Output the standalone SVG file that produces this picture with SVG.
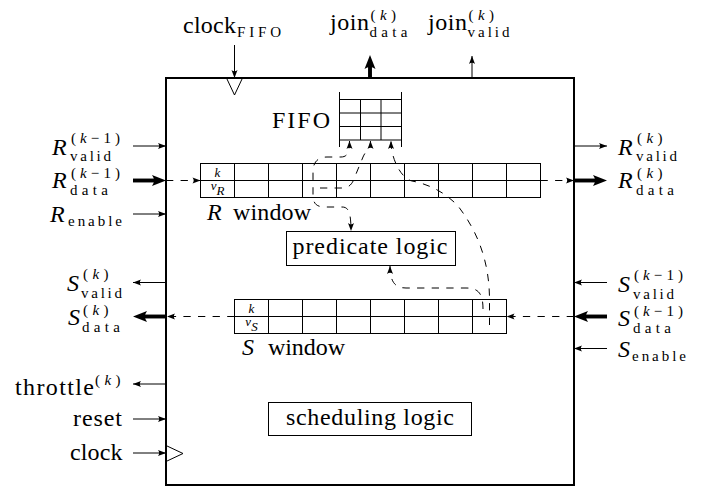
<svg xmlns="http://www.w3.org/2000/svg" width="715" height="489" viewBox="0 0 715 489" font-family="Liberation Serif">
<defs>
<style>
.m { font-size: 24px; }
.s { font-size: 15px; }
.c { font-size: 13px; }
.i { font-style: italic; }
.box { fill: none; stroke: #000; stroke-width: 2; }
.thin { fill: none; stroke: #000; stroke-width: 1; }
.wire { fill: none; stroke: #000; stroke-width: 1; marker-end: url(#ah); }
.bus { fill: none; stroke: #000; stroke-width: 3.9; marker-end: url(#bh); }
.dash { fill: none; stroke: #000; stroke-width: 1; stroke-dasharray: 7.3 7.3; marker-end: url(#ah); }
.both { marker-start: url(#ah); }
</style>
<marker id="ah" markerUnits="userSpaceOnUse" markerWidth="9" markerHeight="7" refX="8" refY="3" orient="auto-start-reverse" viewBox="0 0 9 7" overflow="visible">
<path d="M8,3 L0,0 Q2.4,3 0,6 Z" fill="#000"/>
</marker>
<marker id="bh" markerUnits="userSpaceOnUse" markerWidth="15" markerHeight="12" refX="4" refY="5.5" orient="auto" viewBox="0 0 15 12" overflow="visible">
<path d="M14,5.5 L0,0 Q4,5.5 0,11 Z" fill="#000"/>
</marker>
</defs>
<rect x="0" y="0" width="715" height="489" fill="#fff"/>

<g id="join-unit">
<rect class="box" x="166" y="78" width="408" height="407"/>
</g>

<g id="clock-fifo-port">
<polygon class="thin" points="226.5,78 242.5,78 234.5,95"/>
</g>
<g id="clock-port">
<polygon class="thin" points="166,445.5 183,453.5 166,461.5"/>
</g>

<g id="fifo" font-family="Liberation Serif">
<path class="thin" d="M339.5,92 V147 M401.5,92 V147 M360.5,99.5 V140 M381,99.5 V140 M339.5,99.5 H401.5 M339.5,113 H401.5 M339.5,126.5 H401.5 M339.5,140 H401.5"/>
<text class="m" x="272" y="128" textLength="58" lengthAdjust="spacing">FIFO</text>
</g>

<g id="r-window" font-family="Liberation Serif">
<rect class="thin" x="200.5" y="163.5" width="340" height="34"/>
<path class="thin" d="M200.5,180.5 H540.5 M234.5,163.5 V197.5 M268.5,163.5 V197.5 M302.5,163.5 V197.5 M336.5,163.5 V197.5 M370.5,163.5 V197.5 M404.5,163.5 V197.5 M438.5,163.5 V197.5 M472.5,163.5 V197.5 M506.5,163.5 V197.5"/>
<text class="c i" x="217.5" y="177" text-anchor="middle">k</text>
<text class="c i" x="217.5" y="189.5" text-anchor="middle">v<tspan dy="5">R</tspan></text>
<text class="m" x="207" y="220"><tspan class="i">R</tspan><tspan x="233" textLength="78" lengthAdjust="spacing">window</tspan></text>
</g>

<g id="s-window" font-family="Liberation Serif">
<rect class="thin" x="234.5" y="299.5" width="272" height="34"/>
<path class="thin" d="M234.5,316.5 H506.5 M268.5,299.5 V333.5 M302.5,299.5 V333.5 M336.5,299.5 V333.5 M370.5,299.5 V333.5 M404.5,299.5 V333.5 M438.5,299.5 V333.5 M472.5,299.5 V333.5"/>
<text class="c i" x="251.5" y="313" text-anchor="middle">k</text>
<text class="c i" x="251.5" y="325.5" text-anchor="middle">v<tspan dy="5">S</tspan></text>
<text class="m" x="242" y="355"><tspan class="i">S</tspan><tspan x="268" textLength="77" lengthAdjust="spacing">window</tspan></text>
</g>

<g id="predicate-logic" font-family="Liberation Serif">
<rect class="thin" x="286.5" y="231.5" width="169" height="34"/>
<text class="m" x="292.5" y="254" textLength="155" lengthAdjust="spacing">predicate logic</text>
</g>

<g id="scheduling-logic" font-family="Liberation Serif">
<rect class="thin" x="268.5" y="402.5" width="203" height="33"/>
<text class="m" x="286" y="425" textLength="168" lengthAdjust="spacing">scheduling logic</text>
</g>

<g id="labels" font-family="Liberation Serif">
<g id="label-clock-fifo">
<text class="m" x="183" y="33"><tspan textLength="53" lengthAdjust="spacing">clock</tspan><tspan class="s" x="237" y="36.5" textLength="44" lengthAdjust="spacing">FIFO</tspan></text>
</g>
<g id="label-join-data">
<text class="m" x="330" y="30"><tspan textLength="39" lengthAdjust="spacing">join</tspan><tspan class="s" x="370.5" y="19.5" textLength="25.5" lengthAdjust="spacing">(<tspan class="i">k</tspan>)</tspan><tspan class="s" x="369.5" y="37" textLength="38" lengthAdjust="spacing">data</tspan></text>
</g>
<g id="label-join-valid">
<text class="m" x="428" y="30"><tspan textLength="39" lengthAdjust="spacing">join</tspan><tspan class="s" x="468.5" y="19.5" textLength="25.5" lengthAdjust="spacing">(<tspan class="i">k</tspan>)</tspan><tspan class="s" x="467.5" y="37" textLength="42" lengthAdjust="spacing">valid</tspan></text>
</g>

<g id="label-r-valid-in">
<text class="m" x="52" y="155"><tspan class="i">R</tspan><tspan class="s" x="71" y="143" textLength="49" lengthAdjust="spacing">(<tspan class="i">k</tspan>−1)</tspan><tspan class="s" x="70" y="161" textLength="41" lengthAdjust="spacing">valid</tspan></text>
</g>
<g id="label-r-data-in">
<text class="m" x="52" y="188"><tspan class="i">R</tspan><tspan class="s" x="71" y="177.5" textLength="49" lengthAdjust="spacing">(<tspan class="i">k</tspan>−1)</tspan><tspan class="s" x="70" y="195" textLength="38" lengthAdjust="spacing">data</tspan></text>
</g>
<g id="label-r-enable">
<text class="m" x="50" y="222"><tspan class="i">R</tspan><tspan class="s" x="68" y="226" textLength="54" lengthAdjust="spacing">enable</tspan></text>
</g>
<g id="label-r-valid-out">
<text class="m" x="618" y="155"><tspan class="i">R</tspan><tspan class="s" x="637" y="143" textLength="25.5" lengthAdjust="spacing">(<tspan class="i">k</tspan>)</tspan><tspan class="s" x="636" y="161" textLength="41" lengthAdjust="spacing">valid</tspan></text>
</g>
<g id="label-r-data-out">
<text class="m" x="618" y="188"><tspan class="i">R</tspan><tspan class="s" x="637" y="177.5" textLength="25.5" lengthAdjust="spacing">(<tspan class="i">k</tspan>)</tspan><tspan class="s" x="636" y="195" textLength="38" lengthAdjust="spacing">data</tspan></text>
</g>
<g id="label-s-valid-out">
<text class="m" x="67" y="291"><tspan class="i">S</tspan><tspan class="s" x="83" y="279" textLength="25.5" lengthAdjust="spacing">(<tspan class="i">k</tspan>)</tspan><tspan class="s" x="81" y="297.5" textLength="41" lengthAdjust="spacing">valid</tspan></text>
</g>
<g id="label-s-data-out">
<text class="m" x="68" y="325"><tspan class="i">S</tspan><tspan class="s" x="83" y="314.5" textLength="25.5" lengthAdjust="spacing">(<tspan class="i">k</tspan>)</tspan><tspan class="s" x="82" y="332" textLength="38" lengthAdjust="spacing">data</tspan></text>
</g>
<g id="label-s-valid-in">
<text class="m" x="618" y="292"><tspan class="i">S</tspan><tspan class="s" x="634" y="280" textLength="49" lengthAdjust="spacing">(<tspan class="i">k</tspan>−1)</tspan><tspan class="s" x="633" y="298.5" textLength="41" lengthAdjust="spacing">valid</tspan></text>
</g>
<g id="label-s-data-in">
<text class="m" x="618" y="326"><tspan class="i">S</tspan><tspan class="s" x="634" y="315.5" textLength="49" lengthAdjust="spacing">(<tspan class="i">k</tspan>−1)</tspan><tspan class="s" x="633" y="333" textLength="38" lengthAdjust="spacing">data</tspan></text>
</g>
<g id="label-s-enable">
<text class="m" x="618" y="357"><tspan class="i">S</tspan><tspan class="s" x="632" y="361" textLength="54" lengthAdjust="spacing">enable</tspan></text>
</g>
<g id="label-throttle">
<text class="m" x="15" y="395"><tspan textLength="79" lengthAdjust="spacing">throttle</tspan><tspan class="s" x="95" y="385" textLength="25.5" lengthAdjust="spacing">(<tspan class="i">k</tspan>)</tspan></text>
</g>
<g id="label-reset">
<text class="m" x="73" y="426" textLength="49" lengthAdjust="spacing">reset</text>
</g>
<g id="label-clock">
<text class="m" x="70" y="460" textLength="52.5" lengthAdjust="spacing">clock</text>
</g>
</g>

<g id="connectors">
<path class="wire" d="M234.5,45 V78"/>
<path class="bus" d="M370,78 V65"/>
<path class="wire" d="M472,78 V56"/>
<path class="wire" d="M133,146 H166"/>
<path class="bus" d="M133,180.5 H156"/>
<path class="wire" d="M133,214 H166"/>
<path class="dash" d="M166,180.5 H200.5"/>
<path class="dash" d="M540.5,180.5 H574"/>
<path class="wire" d="M574,146 H607"/>
<path class="bus" d="M574,180.5 H597"/>
<path class="wire" d="M607,282.5 H574"/>
<path class="bus" d="M607,316.5 H584"/>
<path class="wire" d="M607,348.5 H574"/>
<path class="dash" d="M574,316.5 H506.5"/>
<path class="dash" d="M234.5,316.5 H167"/>
<path class="wire" d="M166,282.5 H133"/>
<path class="bus" d="M166,316.5 H143"/>
<path class="wire" d="M166,384 H133"/>
<path class="wire" d="M133,419 H166"/>
<path class="wire" d="M133,453 H166"/>
<path class="dash both" d="M349.5,141 C349.5,153 347,157 341,157 L327,157 C318,157 313,162 313,172 L313,195 C313,203 316,207 325,207 L342,207 C348,207 351,211 351,231"/>
<path class="dash" d="M320,188 L342,188 C350,188 353,183 356,174 L363,157 C366,150 370.5,149 370.5,141"/>
<path class="dash" d="M489.5,325 L489.5,300 C489.5,262 478,232 458,206 C445,192 428,184 412,181 C402,179 391,160 391,141"/>
<path class="dash" d="M483,309 C483,293 478,288 466,288 L406,288 C396,288 390,283 390,266"/>
</g>
</svg>
